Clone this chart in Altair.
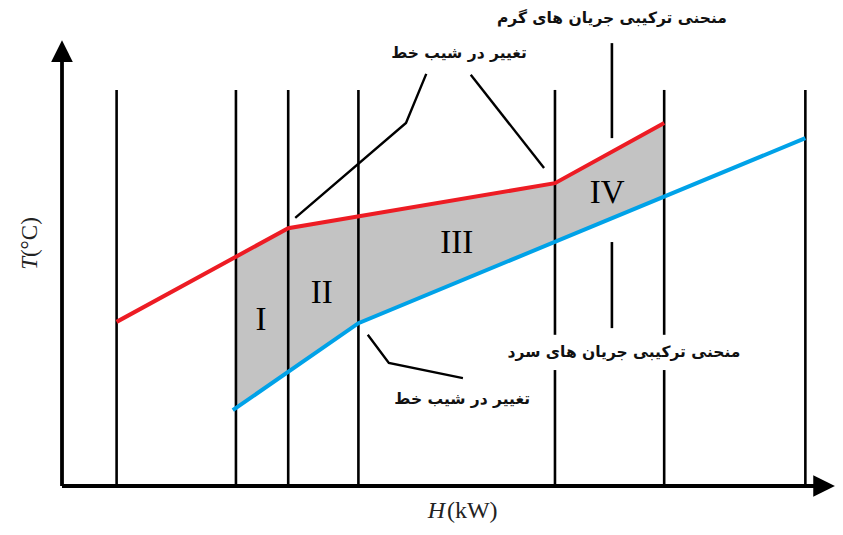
import altair as alt
import pandas as pd

# ---- data (schematic H / T units) ----
red_H = [7.0, 29.0, 63.2, 77.2]
red_T = [36.8, 57.8, 67.9, 81.4]
blue_H = [21.9, 38.0, 95.3]
blue_T = [17.0, 36.5, 78.0]
fill_H = [22.3, 29.0, 38.0, 63.2, 77.2]
fill_hot = [51.4, 57.8, 60.5, 67.9, 81.4]
fill_cold = [17.5, 25.6, 36.5, 54.75, 64.9]

vline_H = [7.0, 22.3, 29.0, 38.0, 63.2, 63.2, 70.5, 70.5, 77.2, 77.2, 95.3]
vline_lo = [0, 0, 0, 0, 0, 33.9, 35.4, 78.0, 0, 33.9, 0]
vline_hi = [88.8, 88.8, 88.8, 88.8, 26.0, 88.8, 54.7, 99.3, 26.0, 88.8, 88.8]

region_labels = ["I", "II", "III", "IV"]
region_H = [25.5, 33.3, 50.6, 69.9]
region_T = [37.2, 43.3, 54.5, 65.7]

leader_id = ["a", "a", "a", "b", "b", "c", "c", "c"]
leader_ord = [0, 1, 2, 0, 1, 0, 1, 2]
leader_H = [29.9, 44.1, 46.7, 52.4, 61.8, 39.2, 41.9, 51.4]
leader_T = [60.1, 81.4, 92.4, 92.2, 71.3, 33.9, 27.6, 24.2]

note_text = ["منحنی ترکیبی جریان های گرم", "تغییر در شیب خط",
             "منحنی ترکیبی جریان های سرد", "تغییر در شیب خط"]
note_H = [70.5, 50.9, 72.05, 51.3]
note_T = [104.9, 97.1, 30.0, 19.5]

axis_H = [0, 0]
axis_T = [0, 0]
axis_H2 = [96.5, 0]
axis_T2 = [0, 95.1]

arrow_H = [0, 97.7]
arrow_T = [97.5, 0]
arrow_shape = ["M-1,1L0,-1L1,1Z", "M-1,-1L1,0L-1,1Z"]

ylab_text = ["T", "(°C)"]
ylab_style = ["italic", "normal"]
ylab_H = [-4.1, -4.1]
ylab_T = [49.9, 55.8]

xlab_text = ["H", "(kW)"]
xlab_style = ["italic", "normal"]
xlab_H = [48.0, 52.6]
xlab_T = [-5.5, -5.5]

# ---- scales ----
xs = alt.Scale(domain=[0, 99.1], nice=False, zero=False)
ys = alt.Scale(domain=[0, 100], nice=False, zero=False)

def X(f):
    return alt.X(f, scale=xs, axis=None, title=None)

def Y(f):
    return alt.Y(f, scale=ys, axis=None, title=None)

fill_df = pd.DataFrame({"H": fill_H, "hot": fill_hot, "cold": fill_cold})
area = alt.Chart(fill_df).mark_area(color="#c3c3c3", opacity=1).encode(
    x=X("H:Q"), y=Y("hot:Q"), y2="cold:Q")

vl_df = pd.DataFrame({"H": vline_H, "lo": vline_lo, "hi": vline_hi})
vlines = alt.Chart(vl_df).mark_rule(color="black", strokeWidth=2.6).encode(
    x=X("H:Q"), y=Y("lo:Q"), y2="hi:Q")

ax_df = pd.DataFrame({"H": axis_H, "T": axis_T, "H2": axis_H2, "T2": axis_T2})
axes = alt.Chart(ax_df).mark_rule(color="black", strokeWidth=3.8).encode(
    x=X("H:Q"), y=Y("T:Q"), x2="H2:Q", y2="T2:Q")

ar_df = pd.DataFrame({"H": arrow_H, "T": arrow_T, "s": arrow_shape})
arrows = alt.Chart(ar_df).mark_point(filled=True, size=470, color="black", opacity=1).encode(
    x=X("H:Q"), y=Y("T:Q"), shape=alt.Shape("s:N", scale=None, legend=None))

red_df = pd.DataFrame({"H": red_H, "T": red_T})
red = alt.Chart(red_df).mark_line(color="#ed1c24", strokeWidth=4).encode(
    x=X("H:Q"), y=Y("T:Q"))

blue_df = pd.DataFrame({"H": blue_H, "T": blue_T})
blue = alt.Chart(blue_df).mark_line(color="#00a2e8", strokeWidth=4).encode(
    x=X("H:Q"), y=Y("T:Q"))

ld_df = pd.DataFrame({"id": leader_id, "o": leader_ord, "H": leader_H, "T": leader_T})
leaders = alt.Chart(ld_df).mark_line(color="black", strokeWidth=2.4).encode(
    x=X("H:Q"), y=Y("T:Q"), detail="id:N", order="o:Q")

rg_df = pd.DataFrame({"t": region_labels, "H": region_H, "T": region_T})
regions = alt.Chart(rg_df).mark_text(font="Liberation Serif", fontSize=33, color="black",
                                     align="center", baseline="middle").encode(
    x=X("H:Q"), y=Y("T:Q"), text="t:N")

nt_df = pd.DataFrame({"t": note_text, "H": note_H, "T": note_T})
notes = alt.Chart(nt_df).mark_text(font="DejaVu Sans", fontSize=15.5, fontWeight="bold",
                                   color="#111111", align="center", baseline="middle").encode(
    x=X("H:Q"), y=Y("T:Q"), text="t:N")

yl_layers = []
for t, st, h, tv in zip(ylab_text, ylab_style, ylab_H, ylab_T):
    d = pd.DataFrame({"t": [t], "H": [h], "T": [tv]})
    yl_layers.append(alt.Chart(d).mark_text(font="Liberation Serif", fontSize=23, fontStyle=st,
                                            angle=270, align="center", baseline="middle",
                                            color="#222222").encode(
        x=X("H:Q"), y=Y("T:Q"), text="t:N"))

xl_layers = []
for t, st, h, tv in zip(xlab_text, xlab_style, xlab_H, xlab_T):
    d = pd.DataFrame({"t": [t], "H": [h], "T": [tv]})
    xl_layers.append(alt.Chart(d).mark_text(font="Liberation Serif", fontSize=24, fontStyle=st,
                                            align="center", baseline="middle",
                                            color="#222222").encode(
        x=X("H:Q"), y=Y("T:Q"), text="t:N"))

chart = alt.layer(area, vlines, red, blue, leaders, axes, arrows, regions, notes,
                  *yl_layers, *xl_layers).properties(
    width=773, height=446,
    padding={"left": 54, "top": 32, "right": 0, "bottom": 41},
    autosize="none",
).configure_view(stroke=None)

chart.save("out.html", embed_options={"renderer": "svg", "actions": False})
